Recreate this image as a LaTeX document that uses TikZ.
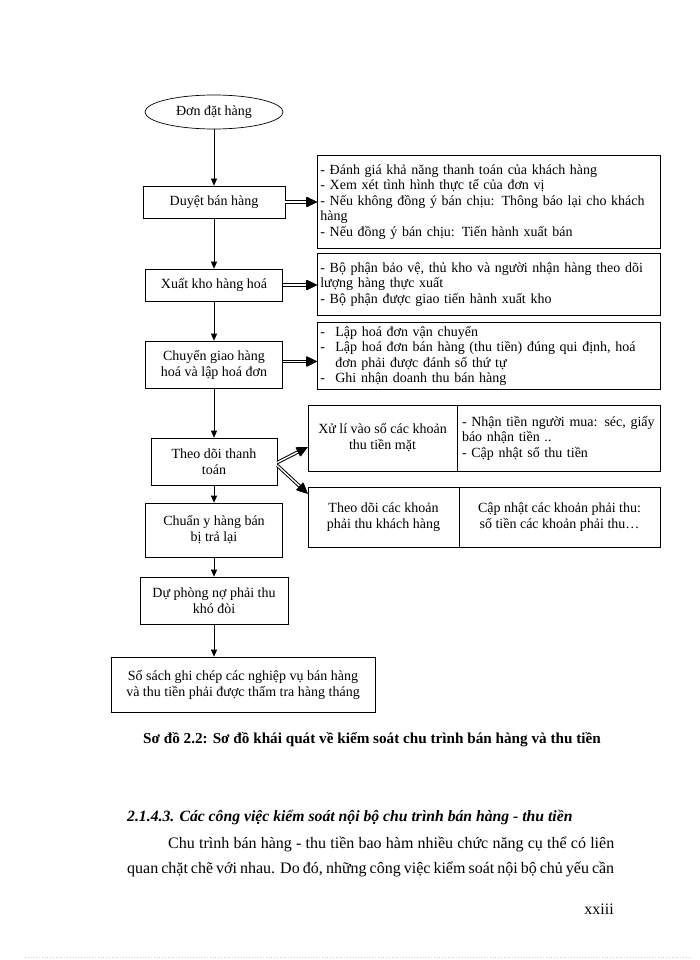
\documentclass[tikz,border=0pt]{standalone}
\usepackage{fontspec}
\setmainfont{Liberation Serif}
\usepackage{tikz}
\usetikzlibrary{arrows.meta,shapes.geometric,calc}

\begin{document}
\begin{tikzpicture}[x=1pt, y=-1pt,
  box/.style={draw, line width=0.7pt, inner sep=2pt, align=center, font=\fontsize{14}{16}\selectfont},
  note/.style={draw, line width=0.7pt, inner xsep=3pt, inner ysep=2pt, align=left, font=\fontsize{14}{15.5}\selectfont},
  arr/.style={line width=0.7pt, -{Triangle[length=7pt,width=6pt]}},
  dbl/.style={line width=3.4pt, -{Triangle[length=10pt 0 0,width=10pt 0 0,line width=0.2pt 0 0,color=black,fill=black]},
    postaction={draw=white, line width=1.4pt, -{Triangle[length=11pt 0 0,width=10pt 0 0,line width=0.2pt 0 0,color=black,fill=black]}}}]
\useasboundingbox[fill=white] (0,0) rectangle (700,960);

\node[box, ellipse, minimum width=138pt, minimum height=34pt] (don) at (214,112) {Đơn đặt hàng};
\node[box, minimum width=142pt, minimum height=32pt] (duyet) at (214,202) {Duyệt bán hàng};
\node[box, minimum width=137pt, minimum height=32pt] (xuat) at (214,285) {Xuất kho hàng hoá};
\node[box, minimum width=137pt, minimum height=47pt] (chuyen) at (214,364.5) {Chuyển giao hàng\\hoá và lập hoá đơn};
\node[box, minimum width=126pt, minimum height=47pt] (theodoi) at (214,461.5) {Theo dõi thanh\\toán};
\node[box, minimum width=137pt, minimum height=54pt] (chuany) at (214,530) {Chuẩn y hàng bán\\bị trả lại};
\node[box, minimum width=148pt, minimum height=47pt] (duphong) at (214,600.5) {Dự phòng nợ phải thu\\khó đòi};
\node[box, minimum width=264pt, minimum height=55pt] (sosach) at (243,684.5) {Sổ sách ghi chép các nghiệp vụ bán hàng\\và thu tiền phải được thẩm tra hàng tháng};

\node[note, anchor=north west, text width=337pt, minimum height=93pt] (danhgia) at (317,155) {- Đánh giá khả năng thanh toán của khách hàng\\- Xem xét tình hình thực tế của đơn vị\\- Nếu không đồng ý bán chịu: Thông báo lại cho khách\\hàng\\- Nếu đồng ý bán chịu: Tiến hành xuất bán};
\node[note, anchor=north west, text width=337pt, minimum height=62pt] (baove) at (317,253) {- Bộ phận bảo vệ, thủ kho và người nhận hàng theo dõi\\lượng hàng thực xuất\\- Bộ phận được giao tiến hành xuất kho};
\node[note, anchor=north west, text width=337pt, minimum height=67pt] (lapdon) at (317,322) {\makebox[15pt][l]{-}Lập hoá đơn vận chuyển\\\makebox[15pt][l]{-}Lập hoá đơn bán hàng (thu tiền) đúng qui định,  hoá\\\hspace*{15pt}đơn phải được đánh số thứ tự\\\makebox[15pt][l]{-}Ghi nhận doanh thu bán hàng};

\node[box, minimum width=149pt, minimum height=66pt] (xuli) at (382.5,438) {Xử lí vào sổ các khoản\\thu tiền mặt};
\node[note, inner xsep=5pt, text width=193pt, minimum height=66pt] (nhantien) at (558.5,438) {- Nhận tiền người mua: séc, giấy\\báo nhận tiền ..\\- Cập nhật sổ thu tiền};
\node[box, minimum width=151pt, minimum height=60pt] (tdcac) at (383.5,517) {Theo dõi các khoản\\phải thu khách hàng};
\node[box, minimum width=201pt, minimum height=60pt] (capnhat) at (559.5,517) {Cập nhật các khoản phải thu:\\số tiền các khoản phải thu…};

\draw[arr] (don.south) -- (duyet.north);
\draw[arr] (duyet.south) -- (xuat.north);
\draw[arr] (xuat.south) -- (chuyen.north);
\draw[arr] (chuyen.south) -- (theodoi.north);
\draw[arr] (theodoi.south) -- (chuany.north);
\draw[arr] (chuany.south) -- (duphong.north);
\draw[arr] (duphong.south) -- (duphong.south |- sosach.north);

\draw[dbl] (duyet.east) -- (duyet.east -| danhgia.west);
\draw[dbl] (xuat.east) -- (xuat.east -| baove.west);
\draw[dbl] ($(chuyen.east)+(0,-3)$) -- ($(chuyen.east -| lapdon.west)+(0,-3)$);
\draw[dbl] ($(theodoi.east)+(0,1)$) -- ($(xuli.west)!0.27!(xuli.south west)$);
\draw[dbl] ($(theodoi.east)+(0,4)$) -- ($(tdcac.north west)!0.23!(tdcac.west)$);

\node[font=\bfseries\fontsize{15.2}{18}\selectfont] (caption) at (372,740) {Sơ đồ 2.2: Sơ đồ khái quát về kiểm soát chu trình bán hàng và thu tiền};
\node[anchor=base west, inner sep=0pt, font=\bfseries\itshape\fontsize{15.7}{18}\selectfont] (muc) at (127,821) {2.1.4.3. Các công việc kiểm soát nội bộ chu trình bán hàng - thu tiền};
\node[anchor=base west, inner sep=0pt, font=\fontsize{16}{18}\selectfont] (dong1) at (168,848) {\makebox[446pt][s]{Chu trình bán hàng - thu tiền bao hàm nhiều chức năng cụ thể có liên}};
\node[anchor=base west, inner sep=0pt, font=\fontsize{16}{18}\selectfont] (dong2) at (127,873) {\makebox[487pt][s]{quan chặt chẽ với nhau. Do đó, những công việc kiểm soát nội bộ chủ yếu cần}};
\node[anchor=base east, inner sep=0pt, font=\fontsize{16}{18}\selectfont] (trang) at (614,914) {xxiii};
\draw[gray!40, dotted, line width=0.8pt] (25,957) -- (690,957);
\end{tikzpicture}
\end{document}
